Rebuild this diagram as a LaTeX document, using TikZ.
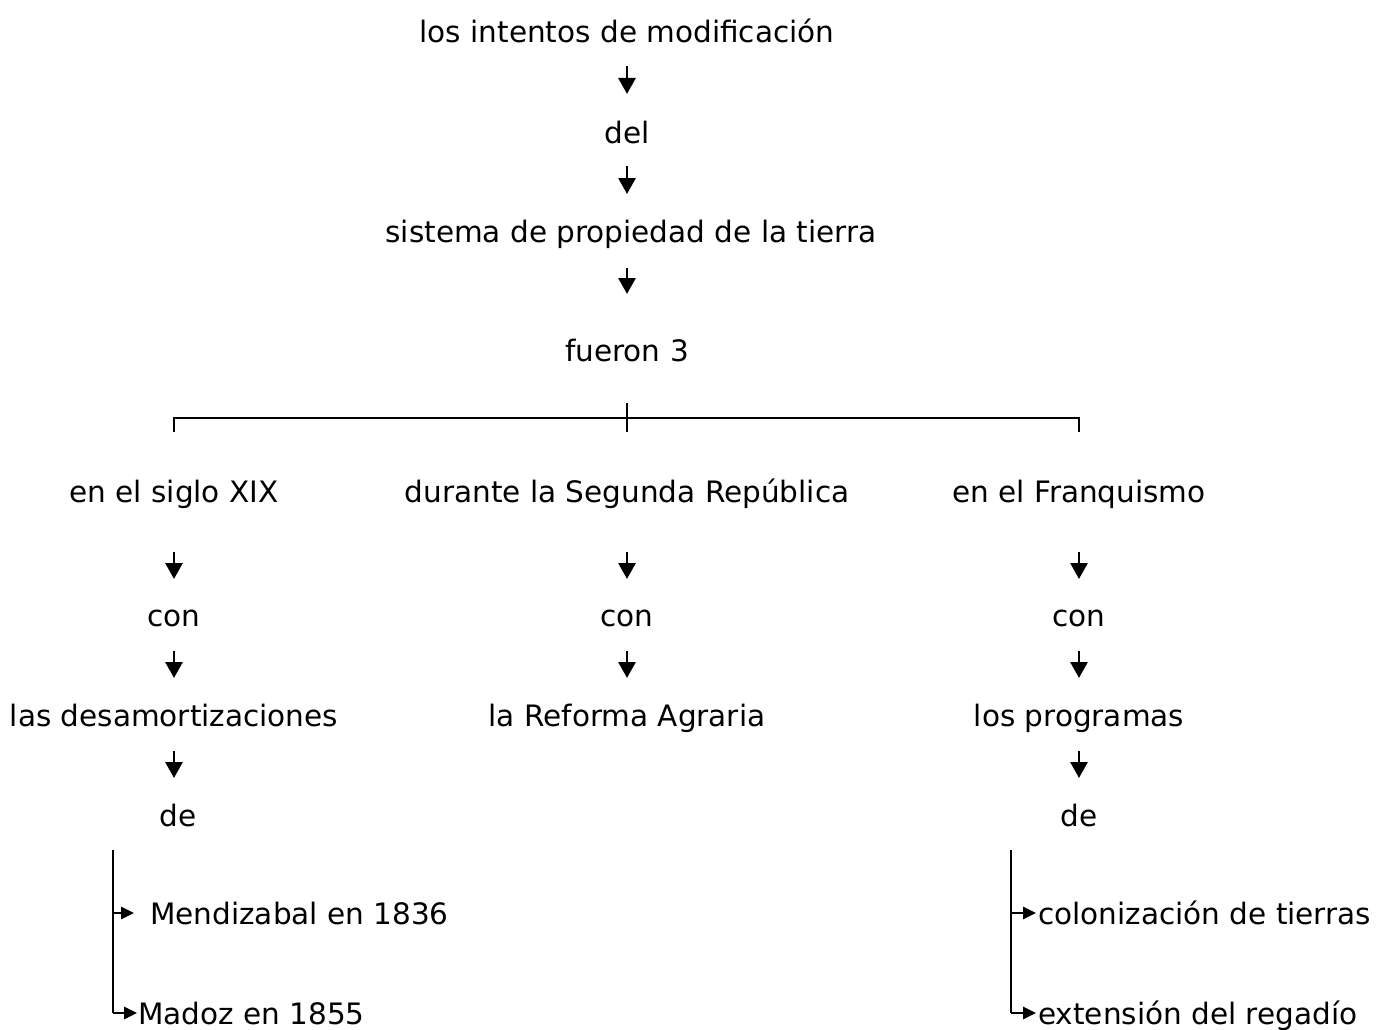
\documentclass[tikz,border=0pt]{standalone}
\usepackage{fontspec}
\setmainfont{DejaVu Sans}
\usetikzlibrary{arrows.meta}
\begin{document}
\begin{tikzpicture}[x=1pt,y=-1pt,
  lbl/.style={inner sep=0pt,anchor=base,font=\fontsize{29.5}{34}\selectfont},
  lblw/.style={lbl,anchor=base west},
  darr/.style={line width=2.8pt,-{Triangle[length=16pt,width=17pt]}},
  barr/.style={line width=2.6pt,-{Triangle[length=13pt,width=12pt]}},
  ln/.style={line width=2.6pt}]
\useasboundingbox (0,0) rectangle (1379,1030);
\node[lbl] (t1) at (627,43) {los intentos de modificación};
\node[lbl] (t2) at (627,143) {del};
\node[lbl] (t3) at (631,242) {sistema de propiedad de la tierra};
\node[lbl] (t4) at (627,361) {fueron 3};
\draw[darr,shorten <=23pt,shorten >=49pt] (t1.base) -- (t2.base);
\draw[darr,shorten <=23pt,shorten >=48pt] (t2.base) -- (t3.base -| t2.base);
\draw[darr,shorten <=26pt,shorten >=67pt] (t3.base -| t2.base) -- (t4.base);
% bracket
\coordinate (bl) at (174,432);
\coordinate (br) at (1079,432);
\coordinate (bct) at (627,403);
\coordinate (bcb) at (627,432);
\draw[ln] (bl) -- (174,418) -- (1079,418) -- (br);
\draw[ln] (bct) -- (bcb);
% columns
\node[lbl] (a1) at (174,502) {en el siglo XIX};
\node[lbl] (b1) at (627,502) {durante la Segunda República};
\node[lbl] (c1) at (1079,502) {en el Franquismo};
\node[lbl] (a2) at (174,626) {con};
\node[lbl] (b2) at (627,626) {con};
\node[lbl] (c2) at (1079,626) {con};
\node[lbl] (a3) at (174,726) {las desamortizaciones};
\node[lbl] (b3) at (627,726) {la Reforma Agraria};
\node[lbl] (c3) at (1079,726) {los programas};
\node[lbl] (a4) at (178,826) {de};
\node[lbl] (c4) at (1079,826) {de};
\foreach \u/\v in {a1/a2,b1/b2,c1/c2}
  \draw[darr,shorten <=50pt,shorten >=47pt] (\u.base) -- (\v.base);
\foreach \u/\v in {a2/a3,b2/b3,c2/c3,c3/c4}
  \draw[darr,shorten <=25pt,shorten >=48pt] (\u.base) -- (\v.base);
\draw[darr,shorten <=25pt,shorten >=48pt] (a3.base) -- (a4.base -| a3.base);
% left branches
\node[lblw] (a5) at (150,924) {Mendizabal en 1836};
\node[lblw] (a6) at (138,1024) {Madoz en 1855};
\coordinate (al) at (113,850);
\coordinate (a5e) at ([xshift=-16pt,yshift=11pt]a5.base west);
\coordinate (a6e) at ([xshift=-1pt,yshift=11pt]a6.base west);
\draw[ln] (al) -- (al |- a6e);
\draw[barr] (al |- a5e) -- (a5e);
\draw[barr] (al |- a6e) -- (a6e);
% right branches
\node[lblw] (c5) at (1038,924) {colonización de tierras};
\node[lblw] (c6) at (1038,1024) {extensión del regadío};
\coordinate (cl) at (1011,850);
\coordinate (c5e) at ([xshift=-2pt,yshift=11pt]c5.base west);
\coordinate (c6e) at ([xshift=-2pt,yshift=11pt]c6.base west);
\draw[ln] (cl) -- (cl |- c6e);
\draw[barr] (cl |- c5e) -- (c5e);
\draw[barr] (cl |- c6e) -- (c6e);
\end{tikzpicture}
\end{document}
